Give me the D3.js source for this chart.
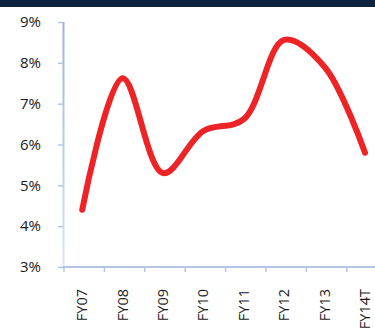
<!DOCTYPE html>
<html>
<head>
<meta charset="utf-8">
<script src="https://cdn.jsdelivr.net/npm/d3@7"></script>
<style>
  body { margin: 0; background: #fff; }
  svg { display: block; }
</style>
</head>
<body>
<div id="chart"></div>
<script>
// data
var years = ["FY07", "FY08", "FY09", "FY10", "FY11", "FY12", "FY13", "FY14T"];
var growth = [4.4, 7.62, 5.3, 6.33, 6.62, 8.56, 7.9, 5.8];
var yTicks = [3, 4, 5, 6, 7, 8, 9];

var W = 375, H = 328;
var plotLeft = 62, plotTop = 22, plotBottom = 267;
var band = 40.4;

var svg = d3.select("#chart").append("svg")
  .attr("width", W)
  .attr("height", H);

// header bar
svg.append("rect")
  .attr("x", 0).attr("y", 0)
  .attr("width", W).attr("height", 7)
  .style("fill", "#0f2340");

var x = d3.scaleBand()
  .domain(years)
  .range([plotLeft, plotLeft + band * years.length]);

var y = d3.scaleLinear()
  .domain([3, 9])
  .range([plotBottom, plotTop]);

// y axis fades towards bottom
var grad = svg.append("defs").append("linearGradient")
  .attr("id", "yfade")
  .attr("x1", 0).attr("y1", 0).attr("x2", 0).attr("y2", 1);
grad.append("stop").attr("offset", "0%").attr("stop-color", "#9bb1d8");
grad.append("stop").attr("offset", "100%").attr("stop-color", "#dbe5f3");

svg.append("rect")
  .attr("x", plotLeft + 0.5).attr("y", plotTop)
  .attr("width", 2).attr("height", plotBottom - plotTop)
  .style("fill", "url(#yfade)");

var yAxis = svg.append("g")
  .attr("transform", "translate(" + (plotLeft + 1) + ",0)")
  .call(d3.axisLeft(y).tickValues(yTicks).tickSize(5)
    .tickFormat(function (d) { return d + "%"; }));
yAxis.select(".domain").remove();
yAxis.selectAll(".tick line").style("stroke", "#b5c6e3").style("stroke-width", 1.5);
yAxis.selectAll(".tick text")
  .attr("x", -22)
  .style("font-family", "Open Sans")
  .style("font-size", "15px")
  .style("fill", "#1a1a1a");

// x axis
var xAxis = svg.append("g")
  .attr("transform", "translate(0," + plotBottom + ")")
  .call(d3.axisBottom(x).tickSize(0));
xAxis.select(".domain")
  .attr("d", "M" + (plotLeft + 1) + ",0H" + W)
  .style("stroke", "#9bb1d8").style("stroke-width", 1.5);

xAxis.selectAll(".tk")
  .data(years).enter()
  .append("line")
  .attr("x1", function (d) { return x(d) + 2; })
  .attr("x2", function (d) { return x(d) + 2; })
  .attr("y1", 0).attr("y2", 5)
  .style("stroke", "#b5c6e3").style("stroke-width", 1.5);

xAxis.selectAll(".tick text")
  .attr("transform", "rotate(-90)")
  .attr("x", -22)
  .attr("y", 0)
  .attr("dy", "0.35em")
  .style("text-anchor", "end")
  .style("font-family", "Open Sans")
  .style("font-size", "14.5px")
  .style("fill", "#1a1a1a");

// the line
var line = d3.line()
  .x(function (d, i) { return x(years[i]) + x.bandwidth() / 2; })
  .y(function (d) { return y(d); })
  .curve(d3.curveCatmullRom.alpha(0.5));

svg.append("path")
  .datum(growth)
  .attr("d", line)
  .style("fill", "none")
  .style("stroke", "#ee2325")
  .style("stroke-width", 6)
  .style("stroke-linecap", "round")
  .style("stroke-linejoin", "round");
</script>
</body>
</html>
